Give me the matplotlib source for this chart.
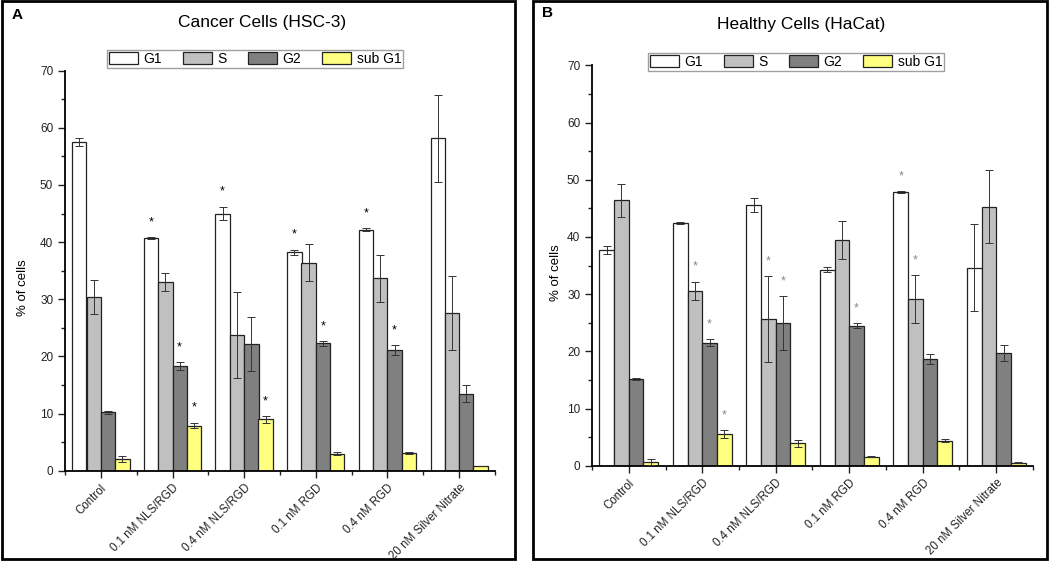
import matplotlib.pyplot as plt
import matplotlib.patches as mpatches
import numpy as np

plt.rcParams['font.family'] = ['Liberation Sans', 'DejaVu Sans']

groups = ['Control', '0.1 nM NLS/RGD', '0.4 nM NLS/RGD', '0.1 nM RGD',
          '0.4 nM RGD', '20 nM Silver Nitrate']
phases = ['G1', 'S', 'G2', 'sub G1']
colors = ['#ffffff', '#c0c0c0', '#808080', '#ffff80']

# panel A: cancer cells (HSC-3)
a_g1 = [57.5, 40.7, 45.0, 38.2, 42.2, 58.2]
a_s = [30.4, 33.0, 23.7, 36.4, 33.7, 27.6]
a_g2 = [10.2, 18.3, 22.2, 22.3, 21.1, 13.5]
a_sub = [2.0, 7.9, 9.0, 3.0, 3.1, 0.8]
a_g1_err = [0.7, 0.2, 1.2, 0.5, 0.2, 7.6]
a_s_err = [2.9, 1.6, 7.5, 3.2, 4.1, 6.4]
a_g2_err = [0.2, 0.7, 4.7, 0.4, 0.9, 1.5]
a_sub_err = [0.5, 0.5, 0.6, 0.2, 0.1, 0.0]
# significance: one row per phase (G1, S, G2, sub G1)
a_sig = [[0, 1, 1, 1, 1, 0],
         [0, 0, 0, 0, 0, 0],
         [0, 1, 0, 1, 1, 0],
         [0, 1, 1, 0, 0, 0]]

# panel B: healthy cells (HaCat)
b_g1 = [37.7, 42.4, 45.6, 34.3, 47.8, 34.6]
b_s = [46.4, 30.6, 25.6, 39.5, 29.1, 45.3]
b_g2 = [15.2, 21.5, 24.9, 24.5, 18.6, 19.7]
b_sub = [0.6, 5.5, 3.9, 1.6, 4.4, 0.5]
b_g1_err = [0.7, 0.2, 1.2, 0.5, 0.15, 7.6]
b_s_err = [2.9, 1.6, 7.5, 3.3, 4.2, 6.4]
b_g2_err = [0.2, 0.65, 4.7, 0.45, 0.9, 1.4]
b_sub_err = [0.5, 0.7, 0.6, 0.1, 0.2, 0.1]
b_sig = [[0, 0, 0, 0, 1, 0],
         [0, 1, 1, 0, 1, 0],
         [0, 1, 1, 1, 0, 0],
         [0, 1, 0, 0, 0, 0]]

W, H = 1050, 561
fig = plt.figure(figsize=(W / 100, H / 100), dpi=100)


def px_axes(x0, x1, y_top, y_bot):
    return fig.add_axes([x0 / W, 1 - y_bot / H, (x1 - x0) / W, (y_bot - y_top) / H])


def draw_panel(ax, vals, errs, sig, star_color, title, title_xy, letter, letter_xy,
               box, leg_xy, ylab_xy):
    x = np.arange(len(groups))
    bw = 0.2
    for i in range(4):
        pos = x + (i - 1.5) * bw
        ax.bar(pos, vals[i], bw, color=colors[i], edgecolor='#222222', linewidth=0.9,
               label=phases[i], zorder=2)
        ax.errorbar(pos, vals[i], yerr=errs[i], fmt='none', ecolor='#333333',
                    elinewidth=0.7, capsize=2.8, capthick=0.7, zorder=3)
        for j in range(len(groups)):
            if sig[i][j]:
                ax.text(pos[j], vals[i][j] + errs[i][j] + 2.6, '*', ha='center',
                        va='center', fontsize=9, color=star_color)
    ax.set_xlim(-0.5, len(groups) - 0.5)
    ax.set_ylim(0, 70)
    ax.set_yticks(np.arange(0, 71, 10))
    ax.set_yticks(np.arange(5, 70, 10), minor=True)
    ax.set_xticks(x)
    ax.set_xticks(np.arange(-0.5, len(groups), 1.0), minor=True)
    ax.set_xticklabels(groups, rotation=45, ha='right', rotation_mode='anchor',
                       fontsize=8.3)
    ax.tick_params(axis='both', which='major', direction='out', length=5, width=1,
                   colors='#222222', labelsize=8.5)
    ax.tick_params(axis='x', which='major', labelsize=8.3, pad=3)
    ax.tick_params(axis='both', which='minor', direction='out', length=3, width=1,
                   colors='#222222')
    for s in ['top', 'right']:
        ax.spines[s].set_visible(False)
    for s in ['left', 'bottom']:
        ax.spines[s].set_linewidth(1.3)
    fig.text(ylab_xy[0] / W, 1 - ylab_xy[1] / H, '% of cells', rotation=90,
             ha='center', va='center', fontsize=9.5)
    fig.text(title_xy[0] / W, 1 - title_xy[1] / H, title, ha='center', va='center',
             fontsize=12.5)
    fig.text(letter_xy[0] / W, 1 - letter_xy[1] / H, letter, ha='left', va='center',
             fontsize=11, fontweight='bold')
    fig.patches.append(mpatches.Rectangle((box[0] / W, 1 - box[3] / H),
                                          (box[1] - box[0]) / W, (box[3] - box[2]) / H,
                                          transform=fig.transFigure, fill=False,
                                          edgecolor='black', linewidth=2))
    leg = fig.legend(*ax.get_legend_handles_labels(), ncol=4,
                     loc='center', bbox_to_anchor=(leg_xy[0] / W, 1 - leg_xy[1] / H),
                     frameon=True, fancybox=False, fontsize=10, handlelength=2.1,
                     handleheight=1.0, handletextpad=0.4, columnspacing=1.5,
                     borderpad=0.15, borderaxespad=0)
    leg.get_frame().set_edgecolor('#888888')
    leg.get_frame().set_linewidth(1.0)


ax_a = px_axes(65, 495, 70.7, 470.7)
draw_panel(ax_a, [a_g1, a_s, a_g2, a_sub], [a_g1_err, a_s_err, a_g2_err, a_sub_err],
           a_sig, 'black', 'Cancer Cells (HSC-3)', (262, 22), 'A', (12, 15),
           (2, 515, 1, 559), (255, 59), (23, 288))

ax_b = px_axes(592, 1033, 65.3, 465.7)
draw_panel(ax_b, [b_g1, b_s, b_g2, b_sub], [b_g1_err, b_s_err, b_g2_err, b_sub_err],
           b_sig, '#888888', 'Healthy Cells (HaCat)', (801, 25), 'B', (542, 13),
           (533, 1047, 1, 559), (796, 62), (556, 273))

fig.savefig('out.png', dpi=100)
